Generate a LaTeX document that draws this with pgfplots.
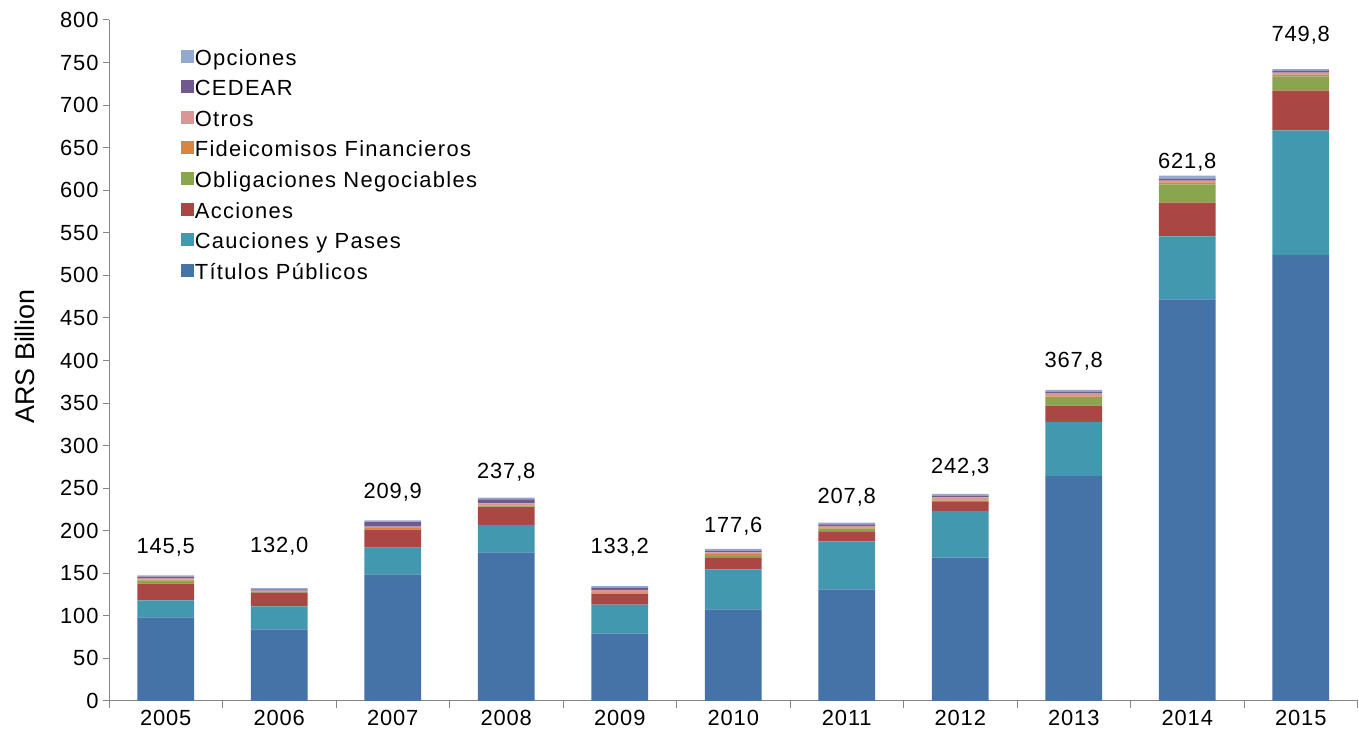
\documentclass[border=0pt]{standalone}
\usepackage{fontspec}
\setmainfont{Liberation Sans}
\newfontfamily\lsA[LetterSpace=4]{Liberation Sans}
\newfontfamily\lsB[LetterSpace=6]{Liberation Sans}
\usepackage{pgfplots}
\pgfplotsset{compat=1.18}
\usetikzlibrary{calc}
\definecolor{cTP}{HTML}{4572A7}
\definecolor{cCP}{HTML}{4198AF}
\definecolor{cAC}{HTML}{AA4643}
\definecolor{cON}{HTML}{89A54E}
\definecolor{cFF}{HTML}{DB843D}
\definecolor{cOT}{HTML}{D99694}
\definecolor{cCE}{HTML}{71588F}
\definecolor{cOP}{HTML}{93A9CF}
\definecolor{axgray}{HTML}{868686}
\tikzset{lbl/.style={font=\lsA\fontsize{22}{26}\selectfont}}
\begin{document}
\begin{tikzpicture}
\begin{axis}[
  name=ax,
  scale only axis,
  width=1248.5bp, height=681bp,
  ybar stacked,
  bar width=0.5,
  xmin=-0.5, xmax=10.5,
  ymin=0, ymax=800,
  xtick={0,...,10},
  xticklabels={2005,2006,2007,2008,2009,2010,2011,2012,2013,2014,2015},
  minor xtick={-0.5,0.5,...,10.5},
  ytick={0,50,...,800},
  tick align=outside,
  major tick length=6bp,
  minor tick length=7bp,
  x tick style={draw=none},
  minor x tick style={draw=axgray, line width=1pt},
  y tick style={draw=axgray, line width=1pt},
  axis x line*=bottom,
  axis y line*=left,
  axis line style={draw=axgray, line width=1pt, -},
  tick label style={font=\lsA\fontsize{22}{26}\selectfont},
  /pgf/number format/assume math mode=true,
  yticklabel style={xshift=-1bp},
  ylabel={ARS Billion},
  every axis y label/.style={at={(axis description cs:-0.0673,0.506)}, rotate=90, anchor=center, font=\fontsize{27}{31}\selectfont},
  reverse legend,
  legend style={draw=none, fill=none, at={(0.055,0.962)}, anchor=north west,
    font=\lsB\fontsize{22}{26}\selectfont, row sep=7.6bp,
    nodes={inner sep=1pt, text height=16bp, text depth=5bp}},
  legend cell align=left,
  legend image code/.code={\fill[#1] (-2bp,-3bp) rectangle (11bp,10bp);},
]
\addplot[fill=cTP, draw=none] coordinates {(0,98.3) (1,84.2) (2,148.8) (3,174.6) (4,79.1) (5,107.7) (6,131.2) (7,168.4) (8,264.3) (9,471.9) (10,523.9)};
\addplot[fill=cCP, draw=none] coordinates {(0,20.0) (1,27.0) (2,31.3) (3,32.2) (4,34.0) (5,47.0) (6,56.4) (7,54.8) (8,63.5) (9,74.0) (10,146.5)};
\addplot[fill=cAC, draw=none] coordinates {(0,19.5) (1,16.1) (2,21.1) (3,21.1) (4,12.6) (5,14.1) (6,11.7) (7,10.6) (8,19.1) (9,39.5) (10,46.6)};
\addplot[fill=cON, draw=none] coordinates {(0,3.6) (1,0.5) (2,0.8) (3,0.6) (4,0.5) (5,1.5) (6,3.1) (7,1.5) (8,10.2) (9,21.6) (10,16.8)};
\addplot[fill=cFF, draw=none] coordinates {(0,1.2) (1,1.0) (2,1.5) (3,1.4) (4,0.8) (5,2.4) (6,1.6) (7,1.6) (8,0.8) (9,2.3) (10,2.0)};
\addplot[fill=cOT, draw=none] coordinates {(0,1.6) (1,1.0) (2,1.2) (3,2.3) (4,3.5) (5,2.0) (6,1.6) (7,2.4) (8,3.9) (9,1.9) (10,2.3)};
\addplot[fill=cCE, draw=none] coordinates {(0,1.8) (1,1.3) (2,5.5) (3,4.7) (4,2.3) (5,1.9) (6,2.0) (7,1.9) (8,1.6) (9,2.4) (10,2.0)};
\addplot[fill=cOP, draw=none] coordinates {(0,1.6) (1,1.4) (2,1.9) (3,1.9) (4,2.0) (5,2.0) (6,1.9) (7,2.0) (8,2.0) (9,3.5) (10,2.3)};
\legend{Títulos Públicos, Cauciones y Pases, Acciones, Obligaciones Negociables, Fideicomisos Financieros, Otros, CEDEAR, Opciones}
\node[lbl] at (axis cs:0,180) {145,5};
\node[lbl] at (axis cs:1,182) {132,0};
\node[lbl] at (axis cs:2,245.5) {209,9};
\node[lbl] at (axis cs:3,269) {237,8};
\node[lbl] at (axis cs:4,181) {133,2};
\node[lbl] at (axis cs:5,205.6) {177,6};
\node[lbl] at (axis cs:6,239.7) {207,8};
\node[lbl] at (axis cs:7,275) {242,3};
\node[lbl] at (axis cs:8,399.5) {367,8};
\node[lbl] at (axis cs:9,633) {621,8};
\node[lbl] at (axis cs:10,782) {749,8};
\end{axis}
\pgfresetboundingbox
\path[use as bounding box] ($(ax.south west)+(-109bp,-41bp)$) rectangle ($(ax.north east)+(1.5bp,20bp)$);
\end{tikzpicture}
\end{document}
